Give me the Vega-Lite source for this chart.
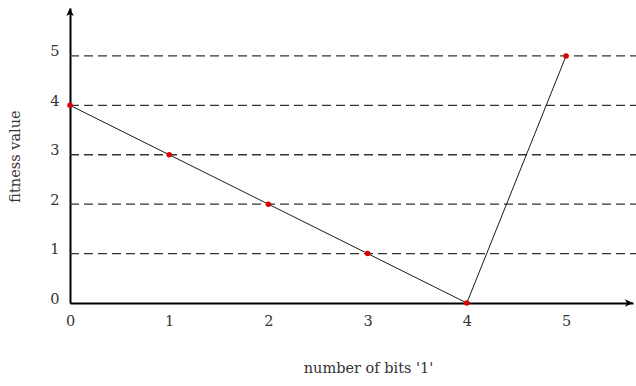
{
  "$schema": "https://vega.github.io/schema/vega-lite/v6.json",
  "width": 563,
  "height": 295,
  "autosize": "none",
  "padding": {"left": 70, "top": 8, "right": 3, "bottom": 83},
  "background": "white",
  "config": {
    "view": {"stroke": null},
    "font": "DejaVu Serif"
  },
  "datasets": {
    "pts": [
      {"bits": 0, "fitness": 4},
      {"bits": 1, "fitness": 3},
      {"bits": 2, "fitness": 2},
      {"bits": 3, "fitness": 1},
      {"bits": 4, "fitness": 0},
      {"bits": 5, "fitness": 5}
    ],
    "grid": [
      {"level": 1, "from": 0, "to": 5.72},
      {"level": 2, "from": 0, "to": 5.72},
      {"level": 3, "from": 0, "to": 5.72},
      {"level": 4, "from": 0, "to": 5.72},
      {"level": 5, "from": 0, "to": 5.72}
    ]
  },
  "layer": [
    {
      "data": {"name": "grid"},
      "mark": {"type": "rule", "strokeDash": [9, 5], "color": "#333333", "strokeWidth": 1.3},
      "encoding": {
        "y": {
          "field": "level", "type": "quantitative",
          "scale": {"domain": [0, 5.97], "nice": false},
          "axis": {
            "values": [0, 1, 2, 3, 4, 5], "format": "d",
            "grid": false, "ticks": false, "labelFlush": false,
            "domainColor": "black", "domainWidth": 2,
            "labelFontSize": 14.5, "labelColor": "#333", "labelPadding": 11, "labelBaseline": "alphabetic",
            "title": "fitness value", "titleFontSize": 14.5, "titleFontWeight": "normal",
            "titleColor": "#333", "titleX": -55, "titleY": 148, "titleBaseline": "middle"
          }
        },
        "x": {
          "field": "from", "type": "quantitative",
          "scale": {"domain": [0, 5.675], "nice": false},
          "axis": {
            "values": [0, 1, 2, 3, 4, 5], "format": "d",
            "grid": false, "ticks": false, "labelFlush": false,
            "domainColor": "black", "domainWidth": 2,
            "labelFontSize": 14.5, "labelColor": "#333", "labelPadding": 11,
            "title": "number of bits '1'", "titleFontSize": 14.5, "titleFontWeight": "normal",
            "titleColor": "#333", "titleX": 298, "titleY": 69, "titleBaseline": "alphabetic"
          }
        },
        "x2": {"field": "to"}
      }
    },
    {
      "data": {"name": "pts"},
      "mark": {"type": "line", "color": "black", "strokeWidth": 0.9},
      "encoding": {
        "x": {"field": "bits", "type": "quantitative"},
        "y": {"field": "fitness", "type": "quantitative"}
      }
    },
    {
      "data": {"name": "pts"},
      "mark": {"type": "point", "filled": true, "color": "#e00000", "size": 30, "opacity": 1},
      "encoding": {
        "x": {"field": "bits", "type": "quantitative"},
        "y": {"field": "fitness", "type": "quantitative"}
      }
    },
    {
      "data": {"values": [{}]},
      "mark": {"type": "point", "filled": true, "color": "black", "opacity": 1, "size": 100, "shape": "M0,0 L-1.6,-0.75 L-1.2,0 L-1.6,0.75 Z"},
      "encoding": {
        "x": {"datum": 5.675, "type": "quantitative"},
        "y": {"datum": 0, "type": "quantitative"}
      }
    },
    {
      "data": {"values": [{}]},
      "mark": {"type": "point", "filled": true, "color": "black", "opacity": 1, "size": 100, "shape": "M0,0 L-0.75,1.6 L0,1.2 L0.75,1.6 Z"},
      "encoding": {
        "x": {"datum": 0, "type": "quantitative"},
        "y": {"datum": 5.97, "type": "quantitative"}
      }
    }
  ]
}
